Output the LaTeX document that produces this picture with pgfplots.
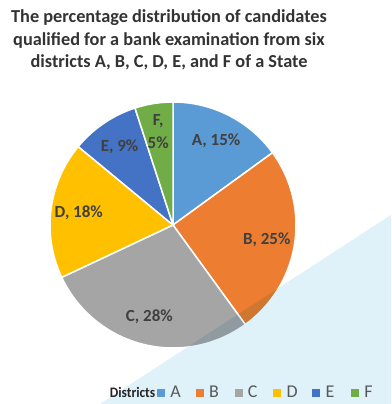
\documentclass[border=0pt]{standalone}
\usepackage{fontspec}
\setmainfont{Carlito}
\usepackage{pgfplots}
\usepackage{pgfplotstable}
\pgfplotsset{compat=1.18}
\definecolor{cA}{HTML}{5B9BD5}
\definecolor{cB}{HTML}{ED7D31}
\definecolor{cC}{HTML}{A5A5A5}
\definecolor{cD}{HTML}{FFC000}
\definecolor{cE}{HTML}{4472C4}
\definecolor{cF}{HTML}{70AD47}
\definecolor{titlec}{HTML}{333333}
\definecolor{labc}{HTML}{404040}
\definecolor{legc}{HTML}{595959}
\definecolor{tri}{HTML}{DFF1F9}
\pgfplotstableread{
name value color
A 15 cA
B 25 cB
C 28 cC
D 18 cD
E 9 cE
F 5 cF
}\piedata
\newcommand{\legbox}[1]{\makebox[25.4pt][l]{\fontsize{18}{18}\selectfont\color{legc}#1}}
\begin{document}
\begin{tikzpicture}
\begin{axis}[
  x=1pt, y=1pt, xmin=0, xmax=391, ymin=0, ymax=404,
  hide axis, clip=false,
  legend columns=-1,
  legend image code/.code={\fill[#1] (0pt,-3.5pt) rectangle (7pt,3.5pt);},
  legend style={draw=none, fill=none, at={(0.4008,0.0285)}, anchor=west,
    inner sep=0pt,
    nodes={inner sep=0pt, font=\fontsize{18}{18}\selectfont, text=legc},
    /tikz/every odd column/.append style={column sep=6pt},
    /tikz/every even column/.append style={column sep=0pt}},
]
\fill[white] (axis cs:0,0) rectangle (axis cs:391,404);
\def\cx{173}\def\cy{179}
\def\cum{0}
\pgfplotstablegetrowsof{\piedata}
\pgfmathtruncatemacro{\N}{\pgfplotsretval-1}
\pgfplotsforeachungrouped \i in {0,...,\N}{%
  \pgfplotstablegetelem{\i}{value}\of\piedata \let\v\pgfplotsretval
  \pgfplotstablegetelem{\i}{color}\of\piedata \let\c\pgfplotsretval
  \pgfmathsetmacro{\sa}{90-\cum*3.6}%
  \pgfmathsetmacro{\ea}{90-(\cum+\v)*3.6}%
  \edef\tmp{\noexpand\fill[\c, draw=white, line width=1.5pt, line join=round]
    (axis cs:\cx,\cy) -- ++(\sa:123pt) arc[start angle=\sa, end angle=\ea, radius=123pt] -- cycle;}%
  \tmp
  \pgfmathsetmacro{\cum}{\cum+\v}%
}
\begin{scope}[blend mode=multiply]
\fill[tri] (axis cs:100,0) -- (axis cs:391,189) -- (axis cs:391,0) -- cycle;
\end{scope}
\def\cum{0}
\pgfplotsforeachungrouped \i in {0,...,\N}{%
  \pgfplotstablegetelem{\i}{value}\of\piedata \let\v\pgfplotsretval
  \pgfplotstablegetelem{\i}{name}\of\piedata \let\n\pgfplotsretval
  \pgfmathsetmacro{\ma}{90-(\cum+\v/2)*3.6}%
  \ifdim\v pt<6pt
    \edef\tmp{\noexpand\node[font=\noexpand\bfseries\noexpand\fontsize{17}{23}\noexpand\selectfont, text=labc, align=center]
      at (axis cs:\cx,\cy) [shift={(\ma:95pt)}] {\n,\noexpand\\\v\noexpand\%};}%
  \else
    \edef\tmp{\noexpand\node[font=\noexpand\bfseries\noexpand\fontsize{17}{23}\noexpand\selectfont, text=labc, align=center]
      at (axis cs:\cx,\cy) [shift={(\ma:95pt)}] {\n, \v\noexpand\%};}%
  \fi
  \tmp
  \pgfmathsetmacro{\cum}{\cum+\v}%
}
\node[font=\bfseries\fontsize{18.3}{22.5}\selectfont, text=titlec, align=center]
  at (axis cs:169,364) {The percentage distribution of candidates\\qualified for a bank examination from six\\districts A, B, C, D, E, and F of a State};
\node[anchor=east, font=\bfseries\fontsize{14.5}{14.5}\selectfont, text=black!85, inner sep=0pt]
  at (axis cs:155.5,11.5) {\scalebox{0.93}[1]{Districts}};
\addlegendimage{cA}\addlegendentry{\legbox{A}}
\addlegendimage{cB}\addlegendentry{\legbox{B}}
\addlegendimage{cC}\addlegendentry{\legbox{C}}
\addlegendimage{cD}\addlegendentry{\legbox{D}}
\addlegendimage{cE}\addlegendentry{\legbox{E}}
\addlegendimage{cF}\addlegendentry{\legbox{F}}
\end{axis}
\end{tikzpicture}
\end{document}
